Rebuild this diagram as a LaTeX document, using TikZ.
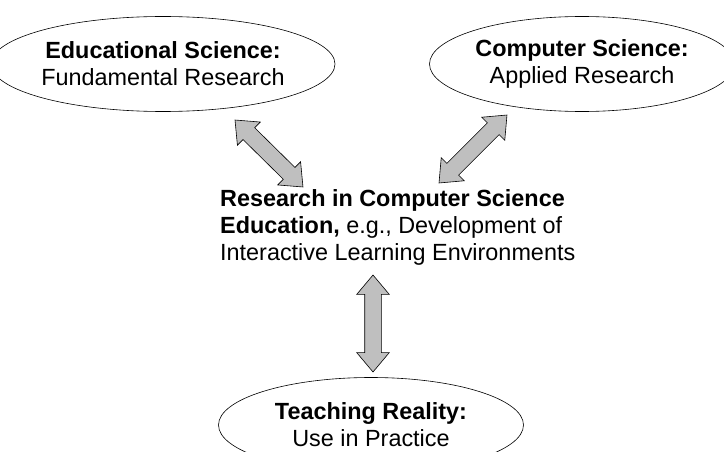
\documentclass[tikz,border=0pt]{standalone}
\usepackage{fontspec}
\setmainfont{Liberation Sans}
\usetikzlibrary{shapes.geometric}
\usetikzlibrary{shapes.arrows}
\usetikzlibrary{calc}
\tikzset{x=1pt, y=-1pt,
         every node/.style={font=\fontsize{23.4}{27}\selectfont},
         field/.style={draw, ellipse, semithick, minimum width=305pt,
                       minimum height=95pt, inner sep=0pt, align=center},
         link/.style={draw, double arrow, fill=black!25, semithick,
                      inner xsep=0pt, inner ysep=8pt,
                      double arrow head extend=8pt, double arrow tip angle=80} }
\newcommand\fatlink[2]{%
  \path let \p1=($(#2)-(#1)$), \n1={atan2(\y1,\x1)}, \n2={veclen(\x1,\y1)} in
    node[link, rotate=\n1, minimum height=\n2] at ($(#1)!0.5!(#2)$) {};}

\begin{document}
\begin{tikzpicture}
    \useasboundingbox (0,0) rectangle (724,452);
    \node[field] (edu) at (163,64) {\textbf{Educational Science:}\\Fundamental Research};
    \node[field] (cs) at (582,64) {\textbf{Computer Science:}\\Applied Research};
    \node[field] (teach) at (371,425) {\textbf{Teaching Reality:}\\Use in Practice};
    \node[anchor=west, align=left, inner sep=0pt] (cse) at (220,227)
        {\textbf{Research in Computer Science}\\\textbf{Education,} e.g., Development of\\Interactive Learning Environments};
    % arrow ends
    \coordinate (edu-end) at (235,120);
    \coordinate (cse-nw) at (303,187);
    \coordinate (cs-end) at (507,115);
    \coordinate (cse-ne) at (439,183);
    \coordinate (cse-s) at (373,275);
    \coordinate (teach-end) at (373,372);
    \fatlink{edu-end}{cse-nw}
    \fatlink{cs-end}{cse-ne}
    \fatlink{cse-s}{teach-end}
  \end{tikzpicture}
\end{document}
